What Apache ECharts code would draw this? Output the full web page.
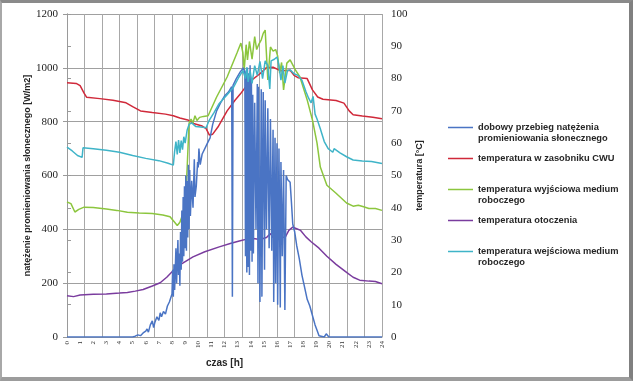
<!DOCTYPE html>
<html><head><meta charset="utf-8">
<script src="https://cdn.jsdelivr.net/npm/echarts@6/dist/echarts.min.js"></script>
<style>
html,body{margin:0;padding:0;background:#fff;}
#wrap{position:relative;width:633px;height:381px;}
#c{width:633px;height:381px;}
#frame{position:absolute;left:0;top:0;width:633px;height:381px;box-sizing:border-box;border-top:3px solid #8a8a8a;border-left:2px solid #a8a8a8;border-right:4px solid #808080;border-bottom:4px solid #9c9c9c;pointer-events:none;}
</style></head>
<body><div id="wrap"><div id="c"></div><div id="frame"></div></div>
<script>
// x tick labels (hours)
const hourTicks = [0,1,2,3,4,5,6,7,8,9,10,11,12,13,14,15,16,17,18,19,20,21,22,23,24];
const seriesNames = [
  'dobowy przebieg natężenia promieniowania słonecznego',
  'temperatura w zasobniku CWU',
  'temperatura wyjściowa medium roboczego',
  'temperatura otoczenia',
  'temperatura wejściowa medium roboczego'
];
const legendLabels = [
  'dobowy przebieg natężenia\npromieniowania słonecznego',
  'temperatura w zasobniku CWU\n ',
  'temperatura wyjściowa medium\nroboczego',
  'temperatura otoczenia\n ',
  'temperatura wejściowa medium\nroboczego'
];
// solar irradiance [W/m2] : time [h] / value
const solarTime = [0,5.0,5.2,5.4,5.6,5.8,6.0,6.1,6.2,6.35,6.5,6.6,6.7,6.85,7.0,7.1,7.2,7.35,7.5,7.65,7.8,7.9,8.0,8.05,8.1,8.15,8.2,8.3,8.35,8.45,8.5,8.55,8.6,8.65,8.7,8.75,8.8,8.85,8.9,8.95,9.0,9.05,9.1,9.15,9.2,9.25,9.3,9.35,9.4,9.5,9.6,9.7,9.75,9.85,9.95,10.0,10.05,10.15,10.3,10.5,10.7,10.9,11.1,11.4,11.7,12.0,12.3,12.55,12.6,12.65,12.9,13.2,13.45,13.55,13.6,13.65,13.7,13.75,13.8,13.85,13.9,13.95,14.0,14.05,14.1,14.15,14.2,14.3,14.4,14.5,14.55,14.6,14.7,14.8,14.85,14.95,15.05,15.1,15.2,15.3,15.4,15.5,15.6,15.7,15.75,15.85,15.9,16.0,16.05,16.15,16.25,16.3,16.4,16.5,16.6,16.7,16.8,17.0,17.1,17.2,17.35,17.5,17.7,17.9,18.1,18.3,18.5,18.7,18.9,19.05,19.2,19.35,19.6,19.75,19.85,19.95,24];
const solarValue = [0,0,3,8,5,15,22,30,18,45,60,35,55,75,62,90,75,95,85,115,130,145,160,250,150,270,175,330,200,360,230,310,190,390,250,470,280,520,300,560,330,600,320,580,370,640,400,620,450,580,480,660,520,560,650,630,700,640,680,700,720,740,790,840,870,895,910,930,150,935,960,985,1000,980,300,990,240,1000,260,980,230,1010,320,960,280,900,310,870,400,940,200,930,130,920,150,910,250,880,400,850,330,810,320,770,130,740,200,720,120,700,110,650,300,620,100,600,585,575,500,420,390,340,290,230,185,140,115,80,45,25,5,0,0,12,8,0,0];
// tank temperature [°C]
const tankTime = [0,0.7,1.0,1.3,1.5,2.5,3.5,4.5,5.0,5.6,6.5,7.5,8.1,8.6,9.2,9.7,10.3,10.6,10.85,11.1,11.5,12.2,12.8,13.2,13.9,14.7,15.2,15.7,16.3,17.0,17.3,17.6,18.3,18.7,19.1,19.5,20.5,21.1,21.5,21.8,22.5,23.3,24];
const tankValue = [78.7,78.5,77.8,75.5,74.2,73.8,73.3,72.5,71.3,70,69.5,69,68.5,67.8,67.2,66,65.3,64.5,62.5,62.8,65,70,73.3,75.2,79,81.5,83.4,83.5,82.4,82.6,81,80.3,80,76.5,74.3,73.6,73.2,72.4,70,68.8,68.4,68,67.6];
// outlet temperature [°C]
const outTime = [0,0.3,0.6,0.9,1.3,2,3,3.8,4.6,5.5,6.5,7.3,7.85,8.2,8.4,8.6,8.75,8.9,9.0,9.15,9.3,9.45,9.6,9.75,9.9,10.1,10.4,10.75,11.4,12.2,12.95,13.25,13.4,13.5,13.65,13.75,13.9,14.0,14.1,14.3,14.45,14.6,14.8,14.95,15.1,15.3,15.5,15.7,15.9,16.05,16.2,16.35,16.5,16.75,17.0,17.4,17.75,18.3,18.7,19.05,19.3,19.8,20.5,21.3,21.8,22.2,22.6,23.0,23.5,24];
const outValue = [41.8,41.3,38.7,39.5,40.2,40.1,39.6,39.2,38.6,38.4,38.2,37.8,37.2,35.5,34.5,35.5,37.2,39.5,40.5,52,66.2,67.5,66.3,68.5,67,68,68.3,68.5,74.3,80.5,87.9,91,88,82.7,90.5,85.8,91.5,92,86,93,89,90.5,92,94,95,79.6,89.8,88.5,89,87,81.7,85,76.5,84.8,85.8,82.7,80.5,73.4,67.2,60,52.6,47,44.5,41.5,40.5,40.8,40.3,39.8,39.8,39.2];
// ambient temperature [°C]
const ambTime = [0,0.5,1,2,3,4,4.6,5.2,5.8,6.5,7.1,7.6,8.1,8.6,9.1,9.6,10.5,11.6,12.5,13.2,13.7,14.2,14.7,15.2,15.5,15.7,16.0,16.3,16.6,16.9,17.2,17.5,17.8,18.2,18.6,19.2,19.8,20.5,21.3,21.8,22.3,23,23.5,24];
const ambValue = [12.8,12.5,13,13.2,13.3,13.6,13.8,14.2,14.7,15.8,16.8,18.5,20.6,22.3,23.6,24.8,26.4,27.9,29,29.8,30.3,30.5,30.2,30.8,32,30.8,30.8,31.2,30.7,33,34,33.5,33,31,29.5,27.5,25,22.5,20,18.5,17.6,17.3,17.2,16.5];
// inlet temperature [°C]
const inTime = [0,0.4,0.8,1.15,1.22,2,3,4,5,6,7,7.7,8.1,8.2,8.3,8.4,8.5,8.6,8.7,8.8,8.9,9.0,9.15,9.3,9.5,9.8,10.2,10.6,10.8,11.2,11.6,12.2,12.7,13.1,13.4,13.6,13.7,13.8,13.95,14.1,14.3,14.5,14.7,14.9,15.1,15.3,15.45,15.55,15.8,16.0,16.15,16.3,16.45,16.6,16.8,17.0,17.3,17.6,17.9,18.2,18.4,18.6,18.75,18.9,19.05,19.3,19.6,19.9,20.25,20.35,20.8,21.3,21.8,22.5,23.2,24];
const inValue = [58.8,57.6,56.2,55.6,58.6,58.3,57.8,57.2,56.2,55.3,54.6,53.8,53.2,57.5,60.5,56.5,61,57,60.8,58,62,60,64,65.8,66.3,65.2,65,64.8,66.8,69.5,72.3,75,77.4,80.5,82.5,80,83.5,79,82.5,78.5,84,81,85.3,80,85.5,84,76.8,85.5,86,86.7,84,79.5,84,78.6,82.5,82.7,81.5,81,79.5,76,74,72.5,74.5,69,67.5,64.5,60.5,58.3,57.2,58.3,57,55.8,54.8,54.5,54.3,53.7];

const zip = (t, v) => t.map((x, i) => [x, v[i]]);
const colors = ['#4a74c4', '#d0293a', '#8cc63e', '#7a3c9e', '#3fb4c8'];
const iconTwo = 'path://M0,0h0.01v0.01h-0.01z M0,4.8h25v1.5h-25z M0,21.99h0.01v0.01h-0.01z';

const chart = echarts.init(document.getElementById('c'), null, {renderer: 'canvas'});
const axisFont = 'Liberation Serif';
const titleFont = 'Liberation Sans';
const mkLine = (idx, data, yi, z) => ({
  name: seriesNames[idx], type: 'line', data: data, yAxisIndex: yi, xAxisIndex: 0,
  showSymbol: false, symbol: 'none', smooth: false, z: z,
  lineStyle: {color: colors[idx], width: 1.5}, itemStyle: {color: colors[idx]}
});
chart.setOption({
  animation: false,
  backgroundColor: '#ffffff',
  color: colors,
  grid: {left: 67, top: 14, width: 315, height: 323, containLabel: false},
  legend: {
    orient: 'vertical', left: 443, top: 117, itemWidth: 25, itemHeight: 22, itemGap: 9,
    icon: iconTwo, itemStyle: {borderWidth: 0}, selectedMode: false,
    data: seriesNames,
    formatter: (name) => legendLabels[seriesNames.indexOf(name)],
    textStyle: {fontFamily: titleFont, fontWeight: 'bold', fontSize: 9.3, lineHeight: 11, color: '#262626'}
  },
  xAxis: [{
    type: 'value', min: 0, max: 24, interval: 1, position: 'bottom',
    name: 'czas [h]', nameLocation: 'middle', nameGap: 21,
    nameTextStyle: {fontFamily: titleFont, fontWeight: 'bold', fontSize: 10, color: '#262626'},
    axisLine: {show: true, lineStyle: {color: '#9a9a9a', width: 1}},
    axisTick: {show: false},
    splitLine: {show: false},
    axisLabel: {rotate: 90, fontSize: 7, fontFamily: axisFont, color: '#333', margin: 4,
      formatter: (v) => hourTicks.includes(v) ? String(v) : ''}
  }, {
    type: 'value', min: 0, max: 24, interval: 4/3, position: 'top',
    axisLine: {show: false}, axisTick: {show: false}, axisLabel: {show: false},
    splitLine: {show: true, lineStyle: {color: '#a8a8a8', width: 1}}
  }],
  yAxis: [{
    type: 'value', min: 0, max: 1200, interval: 200, position: 'left',
    name: 'natężenie promieniowania słonecznego [W/m2]', nameLocation: 'middle', nameGap: 34,
    nameTextStyle: {fontFamily: titleFont, fontWeight: 'bold', fontSize: 9, color: '#262626'},
    axisLine: {show: true, lineStyle: {color: '#9a9a9a', width: 1}},
    axisTick: {show: true, length: 4, lineStyle: {color: '#9a9a9a'}},
    splitLine: {show: true, lineStyle: {color: '#a0a0a0', width: 1}},
    axisLabel: {fontSize: 11, fontFamily: axisFont, color: '#222', margin: 9, formatter: (v) => String(v)}
  }, {
    type: 'value', min: 0, max: 100, interval: 10, position: 'right',
    name: 'temperatura [°C]', nameLocation: 'middle', nameGap: 33,
    nameTextStyle: {fontFamily: titleFont, fontWeight: 'bold', fontSize: 9, color: '#262626'},
    axisLine: {show: true, lineStyle: {color: '#9a9a9a', width: 1}},
    axisTick: {show: true, length: 4, lineStyle: {color: '#9a9a9a'}},
    splitLine: {show: false},
    axisLabel: {fontSize: 11, fontFamily: axisFont, color: '#222', margin: 9, formatter: (v) => String(v)}
  }],
  series: [
    mkLine(1, zip(tankTime, tankValue), 1, 3),
    mkLine(3, zip(ambTime, ambValue), 1, 3),
    mkLine(2, zip(outTime, outValue), 1, 4),
    mkLine(0, zip(solarTime, solarValue), 0, 5),
    mkLine(4, zip(inTime, inValue), 1, 6)
  ]
});
</script></body></html>
